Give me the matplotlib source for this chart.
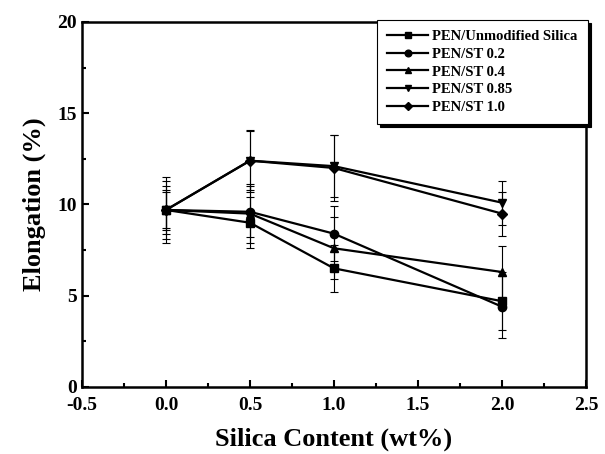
import numpy as np
import matplotlib
matplotlib.use("Agg")
import matplotlib.pyplot as plt
from matplotlib.lines import Line2D

plt.rcParams['font.family'] = ['Liberation Serif', 'DejaVu Serif']
plt.rcParams['font.weight'] = 'bold'
plt.rcParams['axes.unicode_minus'] = False

# data
silica = [0.0, 0.5, 1.0, 2.0]
labels = ['PEN/Unmodified Silica', 'PEN/ST 0.2', 'PEN/ST 0.4', 'PEN/ST 0.85', 'PEN/ST 1.0']
unmod = [9.7, 9.0, 6.5, 4.7]
unmod_err = [1.3, 1.4, 1.3, 1.6]
st02 = [9.7, 9.6, 8.4, 4.4]
st02_err = [1.6, 1.4, 1.5, 1.7]
st04 = [9.7, 9.5, 7.6, 6.3]
st04_err = [1.0, 1.6, 1.7, 1.4]
st085 = [9.7, 12.4, 12.1, 10.1]
st085_err = [1.8, 1.7, 1.7, 1.2]
st10 = [9.7, 12.4, 12.0, 9.5]
st10_err = [1.1, 1.6, 1.8, 1.2]

series = [unmod, st02, st04, st085, st10]
errors = [unmod_err, st02_err, st04_err, st085_err, st10_err]
markers = ['s', 'o', '^', 'v', 'D']

fig = plt.figure(figsize=(6.05, 4.54), dpi=100)
ax = fig.add_axes([0.1355, 0.1476, 0.833, 0.804])

handles = []
for y, e, m, lab in zip(series, errors, markers, labels):
    ms = 6 if m != 'D' else 5.5
    ax.errorbar(silica, y, yerr=e, color='black', marker=m, ms=ms,
                lw=1.6, elinewidth=0.8, capsize=3, capthick=0.8)
    handles.append(Line2D([], [], color='black', marker=m, ms=ms * 0.8, lw=1.6, label=lab))

ax.set_xlim(-0.5, 2.5)
ax.set_ylim(0, 20)
ax.set_xticks(np.arange(-0.5, 2.51, 0.5))
ax.set_xticks(np.arange(-0.25, 2.5, 0.5), minor=True)
ax.set_yticks(np.arange(0, 21, 5))
ax.set_yticks(np.arange(2.5, 20, 5), minor=True)
ax.tick_params(which='both', direction='in', top=False, right=False, width=1.5)
ax.tick_params(which='major', length=5, labelsize=14)
ax.tick_params(which='minor', length=3)
ax.tick_params(axis='x', which='major', pad=7)
for s in ax.spines.values():
    s.set_linewidth(1.8)

ax.set_xlabel('Silica Content (wt%)', fontsize=19, fontweight='bold', labelpad=10)
ax.set_ylabel('Elongation (%)', fontsize=19, fontweight='bold', labelpad=8)

leg = ax.legend(handles=handles, loc='upper left', bbox_to_anchor=(0.611, 0.972),
                bbox_transform=fig.transFigure, fancybox=False,
                shadow={'color': 'black', 'alpha': 1},
                framealpha=1, edgecolor='black', prop={'size': 10.5, 'weight': 'bold'},
                handlelength=2.8, labelspacing=0.3, borderpad=0.7, handletextpad=0.3)
leg.get_frame().set_linewidth(0.8)

fig.savefig('out.png', dpi=100)
